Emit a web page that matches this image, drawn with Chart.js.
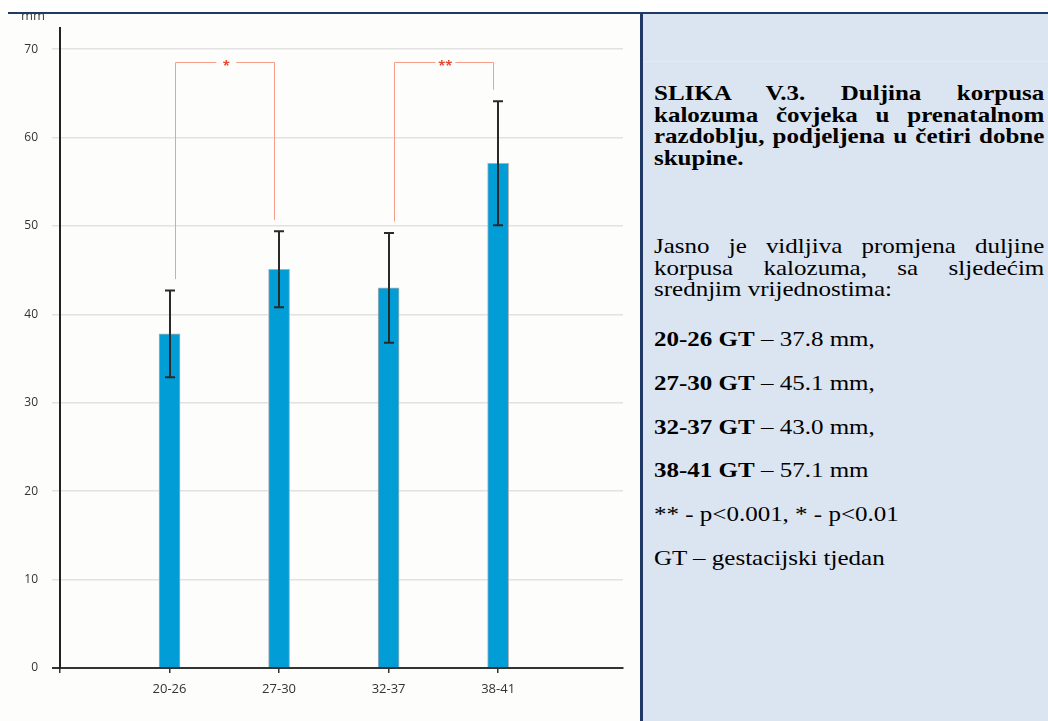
<!DOCTYPE html>
<html>
<head>
<meta charset="utf-8">
<script src="https://cdn.jsdelivr.net/npm/chart.js@4.4.1/dist/chart.umd.min.js"></script>
<style>
  html, body { margin: 0; padding: 0; background: #ffffff; }
  body { width: 1048px; height: 721px; position: relative; overflow: hidden; }
  #wrap { position: absolute; left: 0; top: 14px; width: 640px; height: 707px; background: #fdfdfc; }
  #topline { position: absolute; left: 8px; top: 12px; width: 1040px; height: 2px; background: #1f3a64; z-index: 5; }
  #panel { position: absolute; left: 640px; top: 14px; width: 406px; height: 707px; background: #dbe5f1; border-left: 3px solid #1f3864; }
  #faint { position: absolute; left: 643px; top: 61px; width: 405px; height: 1px; background: #e3eaf4; }
  .txt { position: absolute; left: 654px; width: 328px; transform: scale(1.19, 1); transform-origin: 0 0;
         font-family: "Liberation Serif", "Times New Roman", serif; font-size: 21px; line-height: 21.7px; color: #000; }
  .j { text-align: justify; text-align-last: justify; }
  b { font-weight: bold; }
</style>
</head>
<body>
<div id="wrap"><canvas id="c" width="640" height="707"></canvas></div>
<div id="panel"></div>
<div id="faint"></div>
<div id="topline"></div>

<div class="txt" style="top:83px;">
  <div class="j"><b>SLIKA V.3. Duljina korpusa</b></div>
  <div class="j"><b>kalozuma čovjeka u prenatalnom</b></div>
  <div class="j"><b>razdoblju, podjeljena u četiri dobne</b></div>
  <div><b>skupine.</b></div>
</div>
<div class="txt" style="top:236px;">
  <div class="j">Jasno je vidljiva promjena duljine</div>
  <div class="j">korpusa kalozuma, sa sljedećim</div>
  <div>srednjim vrijednostima:</div>
</div>
<div class="txt" style="top:329px;"><b>20-26 GT</b> – 37.8 mm,</div>
<div class="txt" style="top:373px;"><b>27-30 GT</b> – 45.1 mm,</div>
<div class="txt" style="top:417px;"><b>32-37 GT</b> – 43.0 mm,</div>
<div class="txt" style="top:460px;"><b>38-41 GT</b> – 57.1 mm</div>
<div class="txt" style="top:504px;">** - p&lt;0.001, * - p&lt;0.01</div>
<div class="txt" style="top:548px;">GT – gestacijski tjedan</div>

<script>
// ---- data ----
const categories = ['20-26', '27-30', '32-37', '38-41'];
const means = [37.8, 45.1, 43.0, 57.1];
const errors = [4.9, 4.3, 6.2, 7.0];
const yTicks = [0, 10, 20, 30, 40, 50, 60, 70];
const comparisons = [
  { from: 0, to: 1, label: '*' },
  { from: 2, to: 3, label: '**' }
];
const bracketTop = 68.5;
const bracketGap = 1.3;
const unitLabel = 'mm';

const points = means.map((m, i) => ({ x: i + 1, y: m }));

const overlay = {
  id: 'overlay',
  afterDatasetsDraw(chart) {
    const ctx = chart.ctx;
    const xs = chart.scales.x, ys = chart.scales.y;
    ctx.save();
    // error bars
    ctx.strokeStyle = '#2a2a2a';
    ctx.lineWidth = 2;
    means.forEach((m, i) => {
      const x = Math.round(xs.getPixelForValue(i + 1));
      const yt = ys.getPixelForValue(m + errors[i]);
      const yb = ys.getPixelForValue(m - errors[i]);
      ctx.beginPath();
      ctx.moveTo(x, yt); ctx.lineTo(x, yb);
      ctx.moveTo(x - 5, yt); ctx.lineTo(x + 5, yt);
      ctx.moveTo(x - 5, yb); ctx.lineTo(x + 5, yb);
      ctx.stroke();
    });
    // significance brackets
    comparisons.forEach(c => {
      const x1 = xs.getPixelForValue(c.from + 1) + 5;
      const x2 = xs.getPixelForValue(c.to + 1) - 5;
      const yTop = Math.round(ys.getPixelForValue(bracketTop)) + 0.5;
      const y1 = ys.getPixelForValue(means[c.from] + errors[c.from] + bracketGap);
      const y2 = ys.getPixelForValue(means[c.to] + errors[c.to] + bracketGap);
      const mid = (x1 + x2) / 2 + 2;
      const half = 10;
      ctx.strokeStyle = '#f49e8b';
      ctx.lineWidth = 1;
      ctx.beginPath();
      ctx.moveTo(Math.round(x1) + 0.5, y1);
      ctx.lineTo(Math.round(x1) + 0.5, yTop);
      ctx.lineTo(mid - half, yTop);
      ctx.moveTo(mid + half, yTop);
      ctx.lineTo(Math.round(x2) + 0.5, yTop);
      ctx.lineTo(Math.round(x2) + 0.5, y2);
      ctx.stroke();
      ctx.fillStyle = '#e8472f';
      ctx.font = 'bold 13px "Open Sans", sans-serif';
      ctx.textAlign = 'center';
      ctx.textBaseline = 'middle';
      ctx.fillText(c.label, mid, yTop + 4);
    });
    // unit label
    ctx.fillStyle = '#444';
    ctx.font = '13px "Open Sans", sans-serif';
    ctx.textAlign = 'left';
    ctx.textBaseline = 'alphabetic';
    ctx.fillText(unitLabel, 21, 6);
    ctx.restore();
  }
};

new Chart(document.getElementById('c'), {
  type: 'bar',
  data: {
    datasets: [{
      data: points,
      backgroundColor: '#009dd7',
      borderColor: '#a9b0b4',
      borderWidth: 1,
      barThickness: 21
    }]
  },
  options: {
    responsive: false,
    animation: false,
    devicePixelRatio: 1,
    layout: { padding: { top: 14, right: 17, left: 0, bottom: 0 } },
    plugins: { legend: { display: false }, tooltip: { enabled: false } },
    scales: {
      x: {
        type: 'linear',
        offset: false,
        min: 0,
        max: 5.14,
        afterBuildTicks(s) { s.ticks = [0, 1, 2, 3, 4].map(v => ({ value: v })); },
        afterFit(s) { s.height = 53; s.paddingLeft = 0; s.paddingRight = 0; },
        ticks: {
          callback: v => (v >= 1 && v <= categories.length) ? categories[v - 1] : '',
          color: '#333',
          font: { family: '"Open Sans", sans-serif', size: 13 },
          padding: 8,
          maxRotation: 0,
          autoSkip: false
        },
        grid: { offset: false, drawOnChartArea: false, drawTicks: true, tickLength: 5, color: '#333', lineWidth: 1.5 },
        border: { display: true, color: '#333', width: 2 }
      },
      y: {
        min: 0,
        max: 72.4,
        afterBuildTicks(s) { s.ticks = yTicks.map(v => ({ value: v })); },
        afterFit(s) { s.width = 60; s.paddingTop = 0; s.paddingBottom = 0; },
        ticks: {
          color: '#333',
          font: { family: '"Open Sans", sans-serif', size: 12 },
          padding: 14
        },
        grid: {
          color: c => (c.tick && c.tick.value === 0) ? '#333' : '#e2e2e2',
          lineWidth: c => (c.tick && c.tick.value === 0) ? 2 : 1.5,
          tickLength: 8
        },
        border: { display: true, color: '#222', width: 2 }
      }
    }
  },
  plugins: [overlay]
});
</script>
</body>
</html>
